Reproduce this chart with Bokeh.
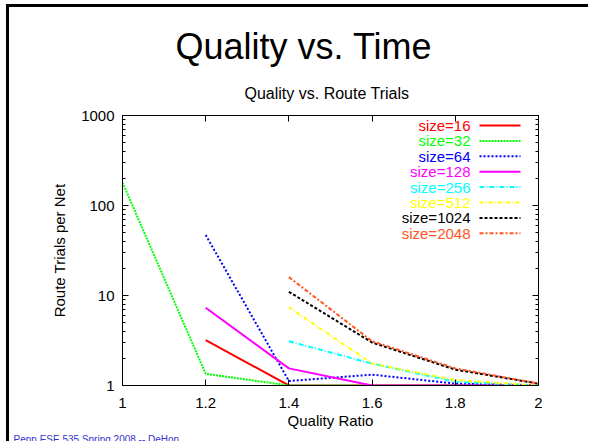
from bokeh.plotting import figure
from bokeh.models import (Label, LinearAxis, LogAxis, FixedTicker, CustomJSTickFormatter, Range1d, Title)
from bokeh.embed import file_html
from bokeh.resources import INLINE

# ---- data ----
x_ticks = [1.0, 1.2, 1.4, 1.6, 1.8, 2.0]
y_ticks = [1, 10, 100, 1000]

size16_x = [1.2, 1.4, 1.6, 1.8, 2.0]
size16_y = [3.2, 1.0, 1.0, 1.0, 1.0]
size32_x = [1.0, 1.2, 1.4, 1.6, 1.8, 2.0]
size32_y = [180, 1.35, 1.0, 1.0, 1.0, 1.0]
size64_x = [1.2, 1.4, 1.6, 1.8, 2.0]
size64_y = [47, 1.12, 1.32, 1.05, 1.0]
size128_x = [1.2, 1.4, 1.6, 1.8, 2.0]
size128_y = [7.3, 1.55, 1.0, 1.0, 1.0]
size256_x = [1.4, 1.6, 1.8, 2.0]
size256_y = [3.1, 1.75, 1.1, 1.0]
size512_x = [1.4, 1.6, 1.8, 2.0]
size512_y = [7.4, 1.75, 1.15, 1.0]
size1024_x = [1.4, 1.6, 1.8, 2.0]
size1024_y = [11, 3.0, 1.5, 1.05]
size2048_x = [1.4, 1.6, 1.8, 2.0]
size2048_y = [16, 3.1, 1.55, 1.05]

labels = ["size=16", "size=32", "size=64", "size=128", "size=256", "size=512", "size=1024", "size=2048"]
colors = ["#ff0000", "#00ff00", "#0000ff", "#ff00ff", "#00ffff", "#ffff00", "#000000", "#ff5522"]
dashes = ["solid", "2 1", "2 2", "solid", "5 2 1 2", "4 2 1 2", "3 2", "4 2 2 2"]
xs = [size16_x, size32_x, size64_x, size128_x, size256_x, size512_x, size1024_x, size2048_x]
ys = [size16_y, size32_y, size64_y, size128_y, size256_y, size512_y, size1024_y, size2048_y]

slide_title = "Quality vs. Time"
chart_title = "Quality vs. Route Trials"
footer = "Penn ESE 535 Spring 2008 -- DeHon"

FONT = "Liberation Sans"

# page-pixel -> data helpers (frame: x 122..538, y 115..385 on page)
def xd(px):
    return 1 + (px - 122) / 416.0

def yd(py):
    return 10 ** ((385 - py) / 90.0)

p = figure(width=582, height=437, x_range=Range1d(1, 2), y_range=Range1d(1, 1000),
           y_axis_type="log", output_backend="svg", toolbar_location=None,
           min_border_left=113, min_border_right=53, min_border_top=108, min_border_bottom=59,
           styles={"margin-top": "4px", "margin-left": "6px",
                   "border-top": "3px solid black", "border-left": "3px solid black"})
p.xgrid.visible = False
p.ygrid.visible = False
p.outline_line_color = "black"
p.outline_line_width = 1
p.background_fill_color = "white"
p.border_fill_color = "white"

xfmt = CustomJSTickFormatter(code="return (Math.round(tick*10)/10).toString();")
yfmt = CustomJSTickFormatter(code="return Math.round(tick).toString();")
blank = CustomJSTickFormatter(code="return '';")
y_minor = [m * 10 ** e for e in range(3) for m in range(2, 10)]

def style_axis(ax):
    ax.axis_line_color = "black"
    ax.major_tick_line_color = "black"
    ax.minor_tick_line_color = "black"
    ax.major_tick_in = 6
    ax.major_tick_out = 0
    ax.minor_tick_in = 3
    ax.minor_tick_out = 0
    ax.major_label_text_font = FONT
    ax.major_label_text_font_size = "15px"
    ax.major_label_text_color = "black"
    ax.major_label_text_line_height = 1.0
    ax.axis_label_text_font = FONT
    ax.axis_label_text_font_size = "15px"
    ax.axis_label_text_font_style = "normal"
    ax.axis_label_text_color = "black"
    ax.axis_label_text_line_height = 1.0

xa = p.xaxis[0]
xa.ticker = FixedTicker(ticks=x_ticks)
xa.formatter = xfmt
style_axis(xa)
xa.major_label_standoff = 12
xa.axis_label = "Quality Ratio"
xa.axis_label_standoff = 1

ya = p.yaxis[0]
ya.ticker = FixedTicker(ticks=y_ticks, minor_ticks=y_minor)
ya.formatter = yfmt
style_axis(ya)
ya.major_label_standoff = 8
ya.axis_label = "Route Trials per Net"
ya.axis_label_standoff = 10

top = LinearAxis(ticker=FixedTicker(ticks=x_ticks), formatter=blank)
style_axis(top)
top.major_label_standoff = 0
top.major_label_text_font_size = "0px"
p.add_layout(top, "above")
right = LogAxis(ticker=FixedTicker(ticks=y_ticks, minor_ticks=y_minor), formatter=blank)
style_axis(right)
right.major_label_standoff = 0
right.major_label_text_font_size = "0px"
p.add_layout(right, "right")

for xv, yv, c, d in zip(xs, ys, colors, dashes):
    p.line(xv, yv, line_color=c, line_width=2, line_dash=d)

# legend (gnuplot style: text right-aligned, then sample)
for i, (lab, c, d) in enumerate(zip(labels, colors, dashes)):
    row = 125 + 15.4 * i
    p.add_layout(Label(x=xd(470), y=yd(row), text=lab, text_align="right", text_baseline="middle",
                       text_font=FONT, text_font_size="15px", text_color=c))
    p.line([xd(479), xd(520)], [yd(row), yd(row)], line_color=c, line_width=2, line_dash=d)

# titles (stacked above the frame) and footer (below)
sub = Title(text=chart_title, align="left", offset=122, standoff=28,
            text_font=FONT, text_font_size="16px", text_font_style="normal", text_color="black")
p.add_layout(sub, "above")
p.title.text = slide_title
p.title.align = "left"
p.title.offset = 53
p.title.standoff = 4
p.title.text_font = FONT
p.title.text_font_size = "36px"
p.title.text_font_style = "normal"
p.title.text_color = "black"

foot = Title(text=footer, align="left", offset=-109, standoff=0,
             text_font=FONT, text_font_size="10px", text_font_style="normal", text_color="#3333cc",
             text_line_height=1.0)
p.add_layout(foot, "below")

open("out.html", "w").write(file_html(p, INLINE))
